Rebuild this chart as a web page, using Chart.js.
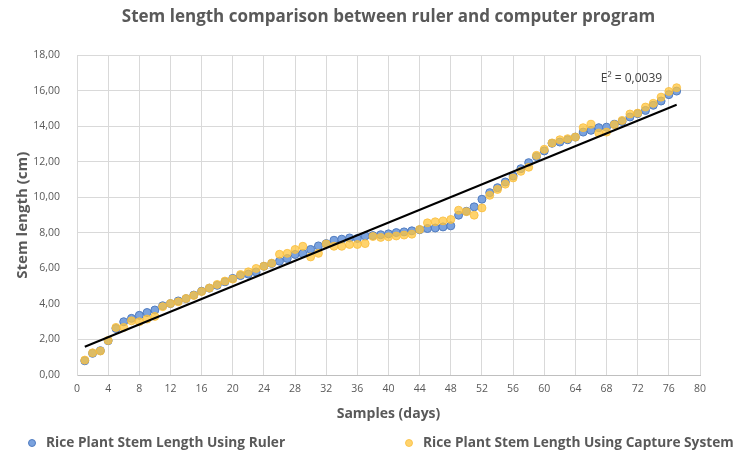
<!DOCTYPE html>
<html>
<head>
<meta charset="utf-8">
<script src="https://cdn.jsdelivr.net/npm/chart.js@4"></script>
<style>
  html, body { margin: 0; padding: 0; background: #fff; }
  #wrap { width: 748px; height: 453px; }
</style>
</head>
<body>
<div id="wrap"><canvas id="myChart" width="748" height="453"></canvas></div>
<script>
  // Values
  const days = [1, 2, 3, 4, 5, 6, 7, 8, 9, 10, 11, 12, 13, 14, 15, 16, 17, 18, 19, 20,
    21, 22, 23, 24, 25, 26, 27, 28, 29, 30, 31, 32, 33, 34, 35, 36, 37, 38, 39, 40,
    41, 42, 43, 44, 45, 46, 47, 48, 49, 50, 51, 52, 53, 54, 55, 56, 57, 58, 59, 60,
    61, 62, 63, 64, 65, 66, 67, 68, 69, 70, 71, 72, 73, 74, 75, 76, 77]

  const ruler = [0.80, 1.22, 1.37, 1.93, 2.62, 3.00, 3.19, 3.36, 3.52, 3.66,
    3.90, 4.02, 4.17, 4.30, 4.50, 4.72, 4.89, 5.05, 5.25, 5.44,
    5.60, 5.68, 5.80, 6.12, 6.28, 6.41, 6.56, 6.79, 6.84, 7.07,
    7.27, 7.40, 7.59, 7.65, 7.72, 7.69, 7.83, 7.85, 7.90, 7.95,
    8.02, 8.06, 8.12, 8.18, 8.25, 8.28, 8.34, 8.40, 9.00, 9.22,
    9.47, 9.90, 10.27, 10.55, 10.87, 11.21, 11.62, 11.96, 12.30, 12.62,
    13.05, 13.12, 13.25, 13.40, 13.68, 13.78, 13.93, 13.96, 14.12, 14.28,
    14.53, 14.72, 14.90, 15.19, 15.43, 15.79, 15.99]

  const capture = [0.84, 1.25, 1.35, 1.95, 2.68, 2.68, 3.05, 3.00, 3.15, 3.30,
    3.85, 4.03, 4.12, 4.31, 4.48, 4.70, 4.90, 5.10, 5.29, 5.40,
    5.66, 5.81, 6.00, 6.13, 6.30, 6.80, 6.85, 7.07, 7.25, 6.65,
    6.85, 7.38, 7.25, 7.25, 7.35, 7.35, 7.40, 7.80, 7.75, 7.78,
    7.83, 7.88, 7.93, 8.20, 8.57, 8.63, 8.68, 8.76, 9.28, 9.20,
    9.00, 9.41, 10.12, 10.45, 10.75, 11.10, 11.47, 11.70, 12.37, 12.71,
    13.07, 13.25, 13.31, 13.40, 13.93, 14.12, 13.63, 13.68, 14.10, 14.34,
    14.70, 14.75, 15.09, 15.30, 15.65, 15.97, 16.18]

  // trend line end points
  const trendX = [1, 77]
  const trendY = [1.59, 15.22]

  const fitLabel = 'E² = 0,0039'
  const fitPos = [71.2, 16.7]

  const seriesNames = ['Rice Plant Stem Length Using Ruler', 'Rice Plant Stem Length Using Capture System']

  const toXY = (xs, ys) => xs.map((x, i) => ({ x: x, y: ys[i] }))

  const blueFill = 'rgb(122, 162, 222)'
  const blueLine = 'rgb(80, 124, 192)'
  const yellowFill = 'rgba(255, 196, 60, 0.75)'
  const yellowLine = 'rgba(250, 190, 60, 0.8)'

  const txt = '#595959'

  const extras = {
    id: 'extras',
    afterDraw(chart) {
      const c = chart.ctx
      const sx = chart.scales.x
      const sy = chart.scales.y
      c.save()
      // R² style label
      c.font = '12px "Open Sans"'
      c.fillStyle = '#404040'
      c.textAlign = 'center'
      c.textBaseline = 'middle'
      c.fillText(fitLabel, sx.getPixelForValue(fitPos[0]), sy.getPixelForValue(fitPos[1]))

      // legend
      const ly = 443
      const items = [
        { x: 32, fill: blueFill, line: blueLine, text: seriesNames[0] },
        { x: 409, fill: yellowFill, line: yellowLine, text: seriesNames[1] }
      ]
      c.font = 'bold 13.7px "Open Sans"'
      c.textAlign = 'left'
      items.forEach(it => {
        c.beginPath()
        c.arc(it.x, ly, 3.5, 0, Math.PI * 2)
        c.fillStyle = it.fill
        c.fill()
        c.lineWidth = 1
        c.strokeStyle = it.line
        c.stroke()
        c.fillStyle = txt
        c.fillText(it.text, it.x + 14, ly)
      })
      c.restore()
    }
  }

  const ctx = document.getElementById('myChart')
  new Chart(ctx, {
    type: 'scatter',
    data: {
      datasets: [{
        label: seriesNames[0],
        data: toXY(days, ruler),
        pointRadius: 4,
        pointBackgroundColor: blueFill,
        pointBorderColor: blueLine,
        pointBorderWidth: 1,
        order: 3
      }, {
        label: seriesNames[1],
        data: toXY(days, capture),
        pointRadius: 4,
        pointBackgroundColor: yellowFill,
        pointBorderColor: yellowLine,
        pointBorderWidth: 1,
        order: 2
      }, {
        label: 'trend',
        type: 'line',
        data: toXY(trendX, trendY),
        borderColor: '#000',
        borderWidth: 2,
        pointRadius: 0,
        fill: false,
        order: 1
      }]
    },
    options: {
      responsive: false,
      animation: false,
      events: [],
      layout: { padding: { left: 10, right: 48, top: 0, bottom: 25 } },
      plugins: {
        legend: { display: false },
        tooltip: { enabled: false },
        title: {
          display: true,
          fullSize: false,
          text: 'Stem length comparison between ruler and computer program',
          color: txt,
          font: { family: 'Open Sans', size: 17, weight: 'bold' },
          padding: { top: 7, bottom: 28 }
        }
      },
      scales: {
        x: {
          type: 'linear',
          min: 0,
          max: 80,
          ticks: {
            stepSize: 4,
            color: txt,
            padding: 8,
            font: { family: 'Open Sans', size: 10.5 }
          },
          grid: { color: '#d9d9d9', drawTicks: false },
          border: { color: '#bfbfbf' },
          title: {
            display: true,
            text: 'Samples (days)',
            color: txt,
            font: { family: 'Open Sans', size: 14, weight: 'bold' },
            padding: { top: 4, bottom: 6 }
          },
          afterFit(scale) { scale.height = 53 }
        },
        y: {
          min: 0,
          max: 18,
          ticks: {
            stepSize: 2,
            color: txt,
            padding: 17,
            font: { family: 'Open Sans', size: 10.5 },
            callback: v => v.toFixed(2).replace('.', ',')
          },
          grid: { color: '#d9d9d9', drawTicks: false },
          border: { color: '#d9d9d9' },
          title: {
            display: true,
            text: 'Stem length (cm)',
            color: txt,
            font: { family: 'Open Sans', size: 15, weight: 'bold' },
            padding: { top: 4, bottom: 4 }
          },
          afterFit(scale) { scale.width = 67 }
        }
      }
    },
    plugins: [extras]
  })
</script>
</body>
</html>
